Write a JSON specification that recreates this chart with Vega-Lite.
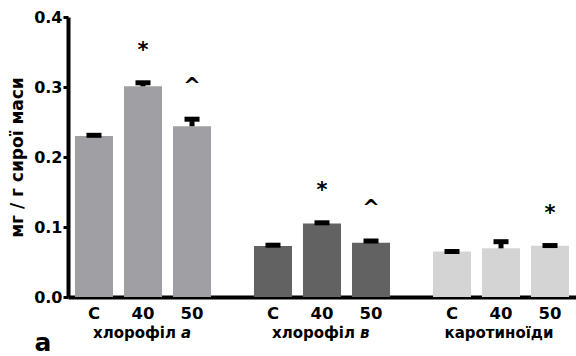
{
  "$schema": "https://vega.github.io/schema/vega-lite/v6.json",
  "width": 508,
  "height": 280,
  "autosize": {"type": "none"},
  "padding": {"left": 68, "top": 17, "right": 0, "bottom": 59},
  "background": "white",
  "config": {
    "view": {"stroke": null},
    "font": "DejaVu Sans",
    "axis": {"grid": false}
  },
  "datasets": {
    "bars": [
      {"group": "хлорофіл а", "treat": "C", "value": 0.230, "upper": 0.231, "sig": ""},
      {"group": "хлорофіл а", "treat": "40", "value": 0.301, "upper": 0.306, "sig": "*"},
      {"group": "хлорофіл а", "treat": "50", "value": 0.244, "upper": 0.254, "sig": "^"},
      {"group": "хлорофіл в", "treat": "C", "value": 0.073, "upper": 0.074, "sig": ""},
      {"group": "хлорофіл в", "treat": "40", "value": 0.105, "upper": 0.106, "sig": "*"},
      {"group": "хлорофіл в", "treat": "50", "value": 0.0776, "upper": 0.080, "sig": "^"},
      {"group": "каротиноїди", "treat": "C", "value": 0.065, "upper": 0.065, "sig": ""},
      {"group": "каротиноїди", "treat": "40", "value": 0.0695, "upper": 0.079, "sig": ""},
      {"group": "каротиноїди", "treat": "50", "value": 0.0733, "upper": 0.0735, "sig": "*"}
    ],
    "groups": [
      {"group": "хлорофіл а", "main": "хлорофіл", "letter": "а"},
      {"group": "хлорофіл в", "main": "хлорофіл", "letter": "в"},
      {"group": "каротиноїди", "main": "каротиноїди", "letter": ""}
    ]
  },
  "encoding": {
    "x": {
      "field": "group",
      "type": "nominal",
      "sort": ["хлорофіл а", "хлорофіл в", "каротиноїди"],
      "scale": {"paddingInner": 0.24, "paddingOuter": 0.039},
      "axis": {
        "title": "a",
        "titleFont": "DejaVu Sans",
        "titleFontSize": 25,
        "titleFontWeight": "bold",
        "titleColor": "black",
        "titleAnchor": "start",
        "titleAlign": "left",
        "titleBaseline": "alphabetic",
        "titleX": -34,
        "titleY": 53,
        "labels": false,
        "ticks": false,
        "domainColor": "black",
        "domainWidth": 4
      }
    }
  },
  "layer": [
    {
      "data": {"name": "bars"},
      "mark": {"type": "bar"},
      "encoding": {
        "xOffset": {
          "field": "treat",
          "type": "nominal",
          "sort": ["C", "40", "50"],
          "scale": {"paddingInner": 0.2245, "paddingOuter": 0}
        },
        "y": {
          "field": "value",
          "type": "quantitative",
          "scale": {"domain": [0, 0.4], "nice": false},
          "axis": {
            "title": "мг / г сирої маси",
            "titleFont": "DejaVu Sans",
            "titleFontSize": 17,
            "titleFontWeight": "bold",
            "titleColor": "black",
            "titlePadding": 7,
            "values": [0, 0.1, 0.2, 0.3, 0.4],
            "format": ".1f",
            "labelFont": "DejaVu Sans",
            "labelFontSize": 16,
            "labelFontWeight": "bold",
            "labelColor": "black",
            "labelPadding": 1,
            "tickSize": 5,
            "tickWidth": 3,
            "tickColor": "black",
            "domainColor": "black",
            "domainWidth": 4
          }
        },
        "color": {
          "field": "group",
          "type": "nominal",
          "scale": {
            "domain": ["хлорофіл а", "хлорофіл в", "каротиноїди"],
            "range": ["#a0a0a4", "#626262", "#d4d4d4"]
          },
          "legend": null
        }
      }
    },
    {
      "data": {"name": "bars"},
      "mark": {"type": "rule", "color": "black", "strokeWidth": 5},
      "encoding": {
        "xOffset": {"field": "treat", "type": "nominal", "sort": ["C", "40", "50"]},
        "y": {"field": "value", "type": "quantitative"},
        "y2": {"field": "upper"}
      }
    },
    {
      "data": {"name": "bars"},
      "mark": {"type": "tick", "color": "black", "size": 15, "thickness": 5, "opacity": 1},
      "encoding": {
        "xOffset": {"field": "treat", "type": "nominal", "sort": ["C", "40", "50"]},
        "y": {"field": "upper", "type": "quantitative"}
      }
    },
    {
      "data": {"name": "bars"},
      "transform": [{"filter": "datum.sig != ''"}],
      "mark": {"type": "text", "fontSize": 21, "fontWeight": "bold", "color": "black", "baseline": "middle", "dy": -32},
      "encoding": {
        "xOffset": {"field": "treat", "type": "nominal", "sort": ["C", "40", "50"]},
        "y": {"field": "upper", "type": "quantitative"},
        "text": {"field": "sig"}
      }
    },
    {
      "data": {"name": "bars"},
      "mark": {"type": "text", "fontSize": 16.5, "fontWeight": "bold", "color": "black", "baseline": "alphabetic", "dy": 21.5},
      "encoding": {
        "xOffset": {"field": "treat", "type": "nominal", "sort": ["C", "40", "50"]},
        "y": {"datum": 0},
        "text": {"field": "treat"}
      }
    },
    {
      "data": {"name": "groups"},
      "transform": [{"filter": "datum.letter != ''"}],
      "mark": {"type": "text", "fontSize": 15, "fontWeight": "bold", "color": "black", "baseline": "alphabetic", "align": "right", "dy": 40.5, "dx": 33},
      "encoding": {
        "y": {"datum": 0},
        "text": {"field": "main"}
      }
    },
    {
      "data": {"name": "groups"},
      "transform": [{"filter": "datum.letter != ''"}],
      "mark": {"type": "text", "fontSize": 15, "fontWeight": "bold", "fontStyle": "italic", "color": "black", "baseline": "alphabetic", "align": "left", "dy": 40.5, "dx": 38},
      "encoding": {
        "y": {"datum": 0},
        "text": {"field": "letter"}
      }
    },
    {
      "data": {"name": "groups"},
      "transform": [{"filter": "datum.letter == ''"}],
      "mark": {"type": "text", "fontSize": 15, "fontWeight": "bold", "color": "black", "baseline": "alphabetic", "align": "center", "dy": 40.5, "dx": -2},
      "encoding": {
        "y": {"datum": 0},
        "text": {"field": "main"}
      }
    }
  ]
}
